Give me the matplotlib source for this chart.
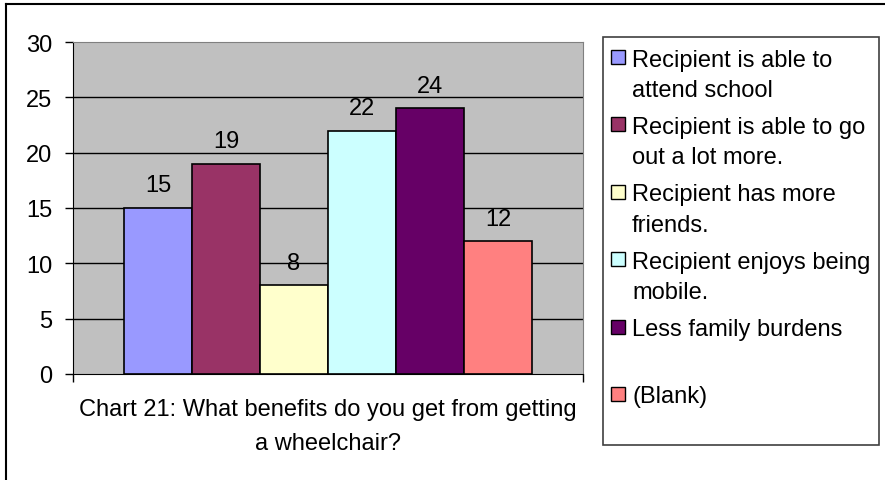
import matplotlib.pyplot as plt
from matplotlib.patches import Rectangle
from matplotlib.lines import Line2D
import numpy as np

plt.rcParams['font.family'] = ['Liberation Sans', 'DejaVu Sans']

categories = ["Recipient is able to\nattend school",
              "Recipient is able to go\nout a lot more.",
              "Recipient has more\nfriends.",
              "Recipient enjoys being\nmobile.",
              "Less family burdens",
              "(Blank)"]
values = [15, 19, 8, 22, 24, 12]
colors = ["#9999FF", "#993366", "#FFFFCC", "#CCFFFF", "#660066", "#FF8080"]
yticks = [0, 5, 10, 15, 20, 25, 30]
title = "Chart 21: What benefits do you get from getting\na wheelchair?"

W, H = 885, 481
fs = 17
fig = plt.figure(figsize=(W/100, H/100), dpi=100)

def fx(px):
    return px/W

def fy(py):
    return 1 - py/H

# outer chart border (right/bottom fall outside the picture)
fig.add_artist(Line2D([fx(6), fx(6)], [fy(5), 0], transform=fig.transFigure, color='black', lw=1.5))
fig.add_artist(Line2D([fx(6), 1], [fy(5), fy(5)], transform=fig.transFigure, color='black', lw=1.5))

ax = fig.add_axes([fx(73), fy(375), fx(583) - fx(73), fy(43) - fy(375)])
ax.set_facecolor("#C0C0C0")

n = len(values)
bw = 0.8/n
xs = 0.1 + bw*np.arange(n)
ax.bar(xs, values, width=bw, align='edge', color=colors, edgecolor='black', linewidth=1.2, zorder=3)
for x, v in zip(xs, values):
    ax.annotate(str(v), (x + bw/2, v), xytext=(0, 12), textcoords='offset points',
                ha='center', va='baseline', fontsize=fs)

ax.set_xlim(0, 1)
ax.set_ylim(0, 30)
ax.set_yticks(yticks)
ax.tick_params(axis='y', length=6, width=1, pad=9, labelsize=fs)
ax.set_xticks([0, 1])
ax.set_xticklabels(["", ""])
ax.tick_params(axis='x', length=6, width=1)
for y in yticks[1:-1]:
    ax.axhline(y, color='black', lw=1, zorder=1)
ax.spines['left'].set_color('black')
ax.spines['bottom'].set_color('black')
ax.spines['top'].set_color('#808080')
ax.spines['right'].set_color('#808080')
ax.set_xlabel(title, fontsize=fs, labelpad=7.5, linespacing=1.72)

# legend box
fig.add_artist(Rectangle((fx(603), fy(446)), fx(879) - fx(603), fy(38) - fy(446),
                         transform=fig.transFigure, facecolor='white', edgecolor='#404040', lw=1.2))
for i, (lab, c) in enumerate(zip(categories, colors)):
    yc = 58 + i*67.4
    fig.add_artist(Rectangle((fx(611), fy(yc + 7)), fx(14), 14/H, transform=fig.transFigure,
                             facecolor=c, edgecolor='black', lw=1))
    fig.text(fx(632), fy(yc - 8.5), lab, fontsize=fs, va='top', ha='left', linespacing=1.5)

fig.savefig("out.png", dpi=100)
